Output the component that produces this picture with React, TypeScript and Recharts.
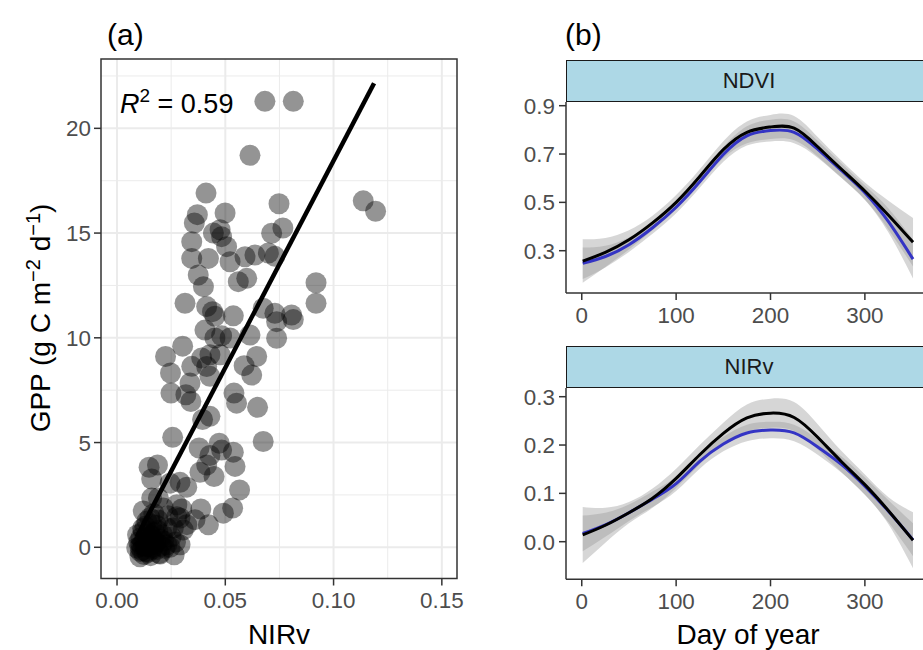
import React from 'react';
import {
  ScatterChart,
  Scatter,
  XAxis,
  YAxis,
  CartesianGrid,
  ReferenceLine,
  ReferenceArea,
  ComposedChart,
  Area,
  Line,
} from 'recharts';

const FONT = '"Liberation Sans", Arial, Helvetica, sans-serif';

// ---------- Panel (a): GPP vs NIRv ----------
const nirvValues = [
  0.0683, 0.0814, 0.0614, 0.0411, 0.0499, 0.0371, 0.0357, 0.0476, 0.0748, 0.1137,
  0.1194, 0.0766, 0.0483, 0.0345, 0.0714, 0.0506, 0.0345, 0.0422, 0.0522, 0.0591,
  0.0637, 0.0699, 0.0729, 0.0375, 0.0399, 0.056, 0.0599, 0.0919, 0.0445,
  0.0919, 0.0314, 0.0414, 0.0441, 0.0452, 0.0537, 0.0675, 0.0729, 0.0806, 0.0737,
  0.0814, 0.0406, 0.0483, 0.0452, 0.0522, 0.0614, 0.0737, 0.0303, 0.0224, 0.0391,
  0.0429, 0.0476, 0.0645, 0.0345, 0.0414, 0.0587, 0.0622, 0.0247, 0.0429, 0.0337,
  0.0249, 0.0318, 0.0341, 0.054, 0.0552, 0.0649, 0.0395, 0.0429,
  0.0257, 0.0675, 0.0379, 0.0472, 0.0483, 0.0537, 0.0429, 0.0148, 0.0187, 0.0414,
  0.0545, 0.0383, 0.0448, 0.016, 0.0245, 0.0291, 0.0322, 0.0566, 0.016, 0.0191,
  0.0299, 0.0387, 0.0491, 0.0534, 0.0422, 0.0276, 0.0306, 0.0214, 0.0276, 0.0121,
  0.0152, 0.0291, 0.0322, 0.036, 0.026,
  0.0106, 0.0106, 0.0199, 0.0264, 0.0091, 0.0152, 0.023, 0.0291, 0.0121, 0.023,
  0.012, 0.0135, 0.0145, 0.0165, 0.0175, 0.0185, 0.02, 0.011, 0.013, 0.016,
  0.019, 0.021, 0.025, 0.014, 0.0125, 0.0155, 0.018, 0.01, 0.022, 0.017,
  0.027, 0.0235, 0.0095, 0.0115,
  0.0112, 0.0128, 0.0142, 0.0158, 0.0172, 0.0188, 0.0205, 0.0118, 0.0138, 0.0168,
  0.0195, 0.0108, 0.0148, 0.0182, 0.0215, 0.0245, 0.0132, 0.0162,
];
const gppValues = [
  21.29, 21.29, 18.71, 16.91, 15.96, 15.88, 15.48, 15.16, 16.4, 16.54,
  16.04, 15.24, 14.83, 14.59, 14.99, 14.35, 13.79, 13.79, 13.63, 13.87,
  13.95, 14.05, 13.89, 13.0, 12.44, 12.68, 12.84, 12.63, 15.0,
  11.65, 11.65, 11.49, 11.25, 11.03, 11.05, 11.41, 11.17, 11.09, 10.77,
  10.87, 10.37, 10.1, 9.99, 9.99, 10.13, 9.98, 9.6, 9.11, 9.04,
  9.19, 9.19, 9.11, 8.64, 8.63, 8.67, 8.22, 8.32, 8.16, 7.84,
  7.36, 7.28, 6.96, 7.36, 6.88, 6.68, 6.1, 6.25,
  5.25, 5.05, 4.74, 4.97, 4.64, 4.54, 4.38, 3.82, 3.93, 3.93,
  3.86, 3.58, 3.38, 3.26, 3.06, 3.1, 2.87, 2.74, 2.35, 2.35,
  1.83, 1.83, 1.63, 1.87, 1.07, 1.46, 0.83, 1.88, 2.03, 1.73,
  1.4, 1.4, 1.08, 1.32, 0.92,
  0.03, -0.45, -0.32, -0.36, -0.03, 0.29, 0.12, 0.12, 0.76, 0.92,
  0.2, -0.2, 0.5, 0.0, 0.7, -0.1, 0.4, 0.45, 1.0, 1.1,
  1.3, 0.6, 0.5, 0.05, -0.35, -0.4, 0.25, 0.25, -0.05, 1.6,
  0.25, 1.5, 0.6, -0.15,
  0.1, 0.35, -0.25, 0.55, 0.15, 0.8, 0.05, 0.9, 1.25, 0.35,
  -0.3, -0.2, 0.65, 1.05, 0.3, 0.0, 0.05, -0.1,
];
const fitNIRv = [0.0092, 0.1187];
const fitGPP = [0.51, 22.15];

const nirvTicks = [0, 0.05, 0.1, 0.15];
const nirvMinor = [0.025, 0.075, 0.125];
const gppTicks = [0, 5, 10, 15, 20];
const gppMinor = [2.5, 7.5, 12.5, 17.5, 22.5];
const nirvDomain = [-0.0074, 0.157];
const gppDomain = [-1.49, 23.31];

// ---------- Panel (b): seasonal curves ----------
const days = [1, 25, 50, 75, 100, 125, 150, 175, 200, 225, 250, 275, 300, 325, 351];
const dayTicks = [0, 100, 200, 300];
const dayDomain = [-16.7, 369];

const ndviBlack = [0.257, 0.293, 0.345, 0.415, 0.5, 0.607, 0.718, 0.79, 0.812, 0.807, 0.73, 0.638, 0.547, 0.447, 0.335];
const ndviBlue = [0.248, 0.276, 0.325, 0.395, 0.48, 0.585, 0.698, 0.775, 0.797, 0.79, 0.72, 0.632, 0.54, 0.42, 0.265];
const ndviBlackLow = [0.167, 0.233, 0.305, 0.385, 0.47, 0.577, 0.683, 0.745, 0.762, 0.757, 0.69, 0.603, 0.512, 0.387, 0.235];
const ndviBlackHigh = [0.347, 0.353, 0.385, 0.445, 0.53, 0.637, 0.753, 0.835, 0.862, 0.857, 0.77, 0.673, 0.582, 0.507, 0.435];
const ndviBlueLow = [0.183, 0.231, 0.295, 0.37, 0.455, 0.56, 0.668, 0.735, 0.752, 0.745, 0.685, 0.602, 0.51, 0.375, 0.185];
const ndviBlueHigh = [0.313, 0.321, 0.355, 0.42, 0.505, 0.61, 0.728, 0.815, 0.842, 0.835, 0.755, 0.662, 0.57, 0.475, 0.345];
const ndviTicks = [0.3, 0.5, 0.7, 0.9];
const ndviDomain = [0.125, 0.9153];

const nirvBlack = [0.014, 0.034, 0.06, 0.09, 0.131, 0.18, 0.224, 0.256, 0.266, 0.257, 0.216, 0.166, 0.118, 0.064, 0.003];
const nirvBlue = [0.017, 0.035, 0.06, 0.088, 0.12, 0.166, 0.202, 0.225, 0.231, 0.225, 0.196, 0.16, 0.115, 0.063, 0.004];
const nirvBlackLow = [-0.044, -0.002, 0.038, 0.07, 0.111, 0.16, 0.202, 0.228, 0.236, 0.229, 0.191, 0.144, 0.097, 0.036, -0.055];
const nirvBlackHigh = [0.072, 0.07, 0.082, 0.11, 0.151, 0.2, 0.246, 0.284, 0.296, 0.289, 0.243, 0.188, 0.139, 0.092, 0.061];
const nirvBlueLow = [-0.02, 0.01, 0.043, 0.072, 0.105, 0.151, 0.187, 0.208, 0.214, 0.208, 0.18, 0.143, 0.097, 0.04, -0.03];
const nirvBlueHigh = [0.054, 0.06, 0.077, 0.104, 0.135, 0.181, 0.217, 0.242, 0.248, 0.242, 0.212, 0.177, 0.133, 0.086, 0.038];
const nirvSeasonTicks = [0, 0.1, 0.2, 0.3];
const nirvSeasonDomain = [-0.0778, 0.318];

const scatterData = nirvValues.map((x, i) => ({ x, y: gppValues[i] }));

const buildSeason = (
  black: number[],
  blue: number[],
  bl: number[],
  bh: number[],
  ul: number[],
  uh: number[]
) =>
  days.map((day, i) => ({
    day,
    black: black[i],
    blue: blue[i],
    blackBand: [bl[i], bh[i]],
    blueBand: [ul[i], uh[i]],
  }));

const ndviData = buildSeason(ndviBlack, ndviBlue, ndviBlackLow, ndviBlackHigh, ndviBlueLow, ndviBlueHigh);
const nirvData = buildSeason(nirvBlack, nirvBlue, nirvBlackLow, nirvBlackHigh, nirvBlueLow, nirvBlueHigh);

const tickStyle = { fill: '#4d4d4d', fontSize: 22.4, fontFamily: FONT };
const lineStyle = { stroke: '#333333', strokeWidth: 1.5 };

const Dot = (props: any) => (
  <circle cx={props.cx} cy={props.cy} r={10.5} fill="#000" fillOpacity={0.42} />
);

function ScatterPanel() {
  return (
    <div style={{ position: 'absolute', left: 0, top: 0, width: 470, height: 650 }}>
      <ScatterChart width={470} height={650} margin={{ top: 59, right: 13, bottom: 41.5, left: 41 }}>
        <CartesianGrid
          stroke="#ebebeb"
          strokeWidth={1}
          horizontalValues={gppMinor}
          verticalValues={nirvMinor}
          fill="#fff"
        />
        <CartesianGrid
          stroke="#ebebeb"
          strokeWidth={2}
          horizontalValues={gppTicks}
          verticalValues={nirvTicks}
          fill="none"
        />
        <XAxis
          type="number"
          dataKey="x"
          domain={nirvDomain}
          ticks={nirvTicks}
          allowDataOverflow
          tickFormatter={(v: number) => v.toFixed(2)}
          axisLine={false}
          tickLine={lineStyle}
          tickSize={7}
          tickMargin={7}
          tick={tickStyle}
          height={30}
          interval={0}
        />
        <YAxis
          type="number"
          dataKey="y"
          domain={gppDomain}
          ticks={gppTicks}
          allowDataOverflow
          axisLine={false}
          tickLine={lineStyle}
          tickSize={7}
          tickMargin={3}
          tick={tickStyle}
          width={60}
          interval={0}
        />
        <Scatter data={scatterData} shape={Dot} isAnimationActive={false} />
        <ReferenceLine
          segment={[
            { x: fitNIRv[0], y: fitGPP[0] },
            { x: fitNIRv[1], y: fitGPP[1] },
          ]}
          stroke="#000"
          strokeWidth={4.5}
        />
        <ReferenceArea
          x1={nirvDomain[0]}
          x2={nirvDomain[1]}
          y1={gppDomain[0]}
          y2={gppDomain[1]}
          fill="none"
          fillOpacity={0}
          stroke="#333333"
          strokeWidth={1.5}
        />
      </ScatterChart>
    </div>
  );
}

function SeasonPanel(props: {
  data: any[];
  domain: number[];
  ticks: number[];
  top: number;
  height: number;
  marginTop: number;
  marginBottom: number;
}) {
  const { data, domain, ticks, top, height, marginTop, marginBottom } = props;
  return (
    <div style={{ position: 'absolute', left: 500, top, width: 440, height }}>
      <ComposedChart
        width={440}
        height={height}
        data={data}
        margin={{ top: marginTop, right: 10, bottom: marginBottom, left: 16 }}
      >
        <XAxis
          type="number"
          dataKey="day"
          domain={dayDomain}
          ticks={dayTicks}
          allowDataOverflow
          axisLine={lineStyle}
          tickLine={lineStyle}
          tickSize={7}
          tickMargin={7}
          tick={tickStyle}
          height={30}
          interval={0}
        />
        <YAxis
          type="number"
          domain={domain}
          ticks={ticks}
          allowDataOverflow
          tickFormatter={(v: number) => v.toFixed(1)}
          axisLine={lineStyle}
          tickLine={lineStyle}
          tickSize={7}
          tickMargin={4}
          tick={tickStyle}
          width={50}
          interval={0}
        />
        <Area
          dataKey="blackBand"
          type="natural"
          stroke="none"
          fill="#999999"
          fillOpacity={0.4}
          isAnimationActive={false}
        />
        <Area
          dataKey="blueBand"
          type="natural"
          stroke="none"
          fill="#999999"
          fillOpacity={0.4}
          isAnimationActive={false}
        />
        <Line
          dataKey="blue"
          type="natural"
          stroke="#3434c4"
          strokeWidth={3}
          dot={false}
          isAnimationActive={false}
        />
        <Line
          dataKey="black"
          type="natural"
          stroke="#000"
          strokeWidth={3}
          dot={false}
          isAnimationActive={false}
        />
      </ComposedChart>
    </div>
  );
}

const Strip = (props: { label: string; top: number }) => (
  <div
    style={{
      position: 'absolute',
      left: 566,
      top: props.top,
      width: 380,
      height: 42,
      boxSizing: 'border-box',
      border: '1.5px solid #1a1a1a',
      background: '#add8e6',
      display: 'flex',
      alignItems: 'center',
    }}
  >
    <span
      style={{
        position: 'absolute',
        left: 182,
        transform: 'translateX(-50%)',
        fontFamily: FONT,
        fontSize: 22,
        color: '#1a1a1a',
      }}
    >
      {props.label}
    </span>
  </div>
);

export default function App() {
  return (
    <div
      style={{
        position: 'absolute',
        left: 0,
        top: 0,
        width: 923,
        height: 650,
        overflow: 'hidden',
        background: '#fff',
        fontFamily: FONT,
      }}
    >
      <ScatterPanel />
      <SeasonPanel data={ndviData} domain={ndviDomain} ticks={ndviTicks} top={0} height={340} marginTop={102} marginBottom={17} />
      <SeasonPanel data={nirvData} domain={nirvSeasonDomain} ticks={nirvSeasonTicks} top={340} height={310} marginTop={48} marginBottom={40.7} />
      <Strip label="NDVI" top={60} />
      <Strip label="NIRv" top={346} />
      <svg
        width={923}
        height={650}
        style={{ position: 'absolute', left: 0, top: 0, pointerEvents: 'none' }}
        fontFamily={FONT}
      >
        <text x={107} y={45} fontSize={30} fill="#000">(a)</text>
        <text x={565} y={45} fontSize={30} fill="#000">(b)</text>
        <text x={120} y={113} fontSize={27} fill="#000">
          <tspan fontStyle="italic">R</tspan>
          <tspan dy={-11} fontSize={19}>2</tspan>
          <tspan dy={11}> = 0.59</tspan>
        </text>
        <text transform="rotate(-90)" x={-318} y={50} fontSize={28} textAnchor="middle" fill="#000">
          GPP (g C m<tspan dy={-10} fontSize={20}>−2</tspan>
          <tspan dy={10}> d</tspan>
          <tspan dy={-10} fontSize={20}>−1</tspan>
          <tspan dy={10}>)</tspan>
        </text>
        <text x={279} y={644} fontSize={28} textAnchor="middle" fill="#000">NIRv</text>
        <text x={748} y={644} fontSize={28} textAnchor="middle" fill="#000">Day of year</text>
      </svg>
    </div>
  );
}
